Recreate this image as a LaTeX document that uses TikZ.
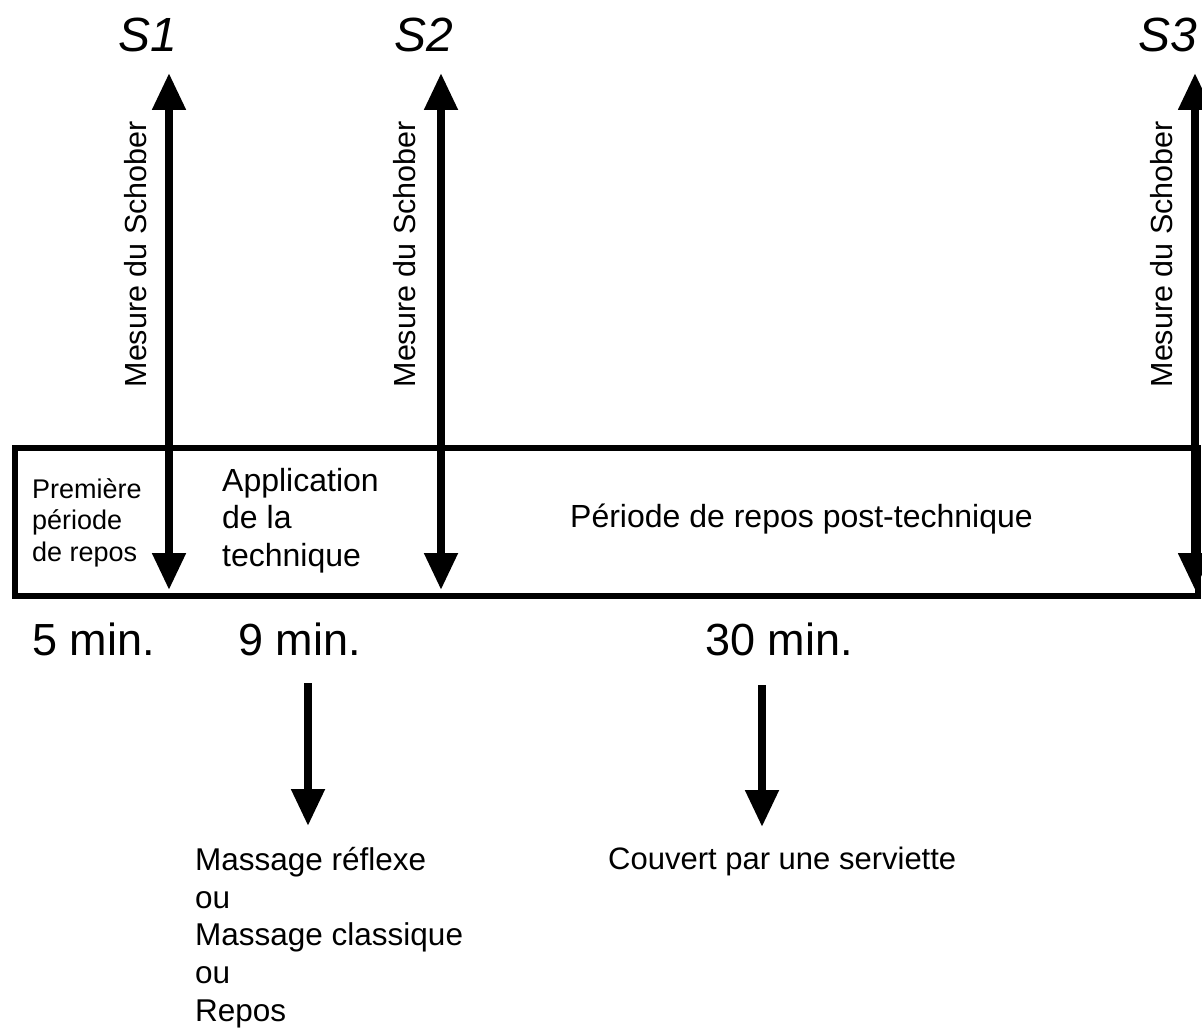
\documentclass[tikz,border=0pt]{standalone}
\usepackage{fontspec}
\setmainfont{Liberation Sans}
\usetikzlibrary{arrows.meta}
\begin{document}
\begin{tikzpicture}[x=1pt,y=-1pt,
  downarrow/.style={line width=8pt, -{Triangle[width=32pt,length=37pt]}},
  dblarrow/.style={line width=8pt, {Triangle[width=32pt,length=37pt]}-{Triangle[width=32pt,length=37pt]}},
  slabel/.style={anchor=base, inner sep=0pt, font=\fontsize{48}{48}\selectfont\itshape},
  mesure/.style={rotate=90, anchor=base east, inner sep=0pt, font=\fontsize{30.5}{30.5}\selectfont},
  minlabel/.style={anchor=base west, inner sep=0pt, font=\fontsize{45}{45}\selectfont},
  txt/.style={anchor=north west, inner sep=0pt, align=left}
]
\useasboundingbox (0,0) rectangle (1202,1030);

% main box
\node[draw, line width=6pt, minimum width=1183pt, minimum height=148pt, inner sep=0pt, anchor=north west] (box) at (12,445) {};

% measurement arrows
\coordinate (s1t) at (169,73);  \coordinate (s1b) at (169,590);
\coordinate (s2t) at (441,73);  \coordinate (s2b) at (441,590);
\coordinate (s3t) at (1195,73); \coordinate (s3b) at (1195,590);
\draw[dblarrow] (s1t) -- (s1b);
\draw[dblarrow] (s2t) -- (s2b);
\draw[dblarrow] (s3t) -- (s3b);

% S labels
\node[slabel] (S1) at (148,52) {S1};
\node[slabel] (S2) at (424,52) {S2};
\node[slabel] (S3) at (1168,52) {S3};

% Mesure du Schober
\node[mesure] (m1) at (146,121) {Mesure du Schober};
\node[mesure] (m2) at (415,121) {Mesure du Schober};
\node[mesure] (m3) at (1172,121) {Mesure du Schober};

% box texts
\node[txt, font=\fontsize{27}{31.5}\selectfont] (p1) at (32,478) {Première\\période\\de repos};
\node[txt, font=\fontsize{32}{37.5}\selectfont] (p2) at (222,468) {Application\\de la\\technique};
\node[anchor=base west, inner sep=0pt, font=\fontsize{32}{32}\selectfont] (p3) at (570,527) {Période de repos post-technique};

% durations
\node[minlabel] (t5) at (32,655) {5 min.};
\node[minlabel] (t9) at (238,655) {9 min.};
\node[minlabel] (t30) at (705,655) {30 min.};

% lower arrows
\coordinate (d9a) at (308,683); \coordinate (d9b) at (308,826);
\coordinate (d30a) at (762,685); \coordinate (d30b) at (762,827);
\draw[downarrow] (d9a) -- (d9b);
\draw[downarrow] (d30a) -- (d30b);

% lower texts
\node[txt, font=\fontsize{31.5}{37.7}\selectfont] (l1) at (195,847) {Massage réflexe\\ou\\Massage classique\\ou\\Repos};
\node[anchor=base west, inner sep=0pt, font=\fontsize{31}{31}\selectfont] (l2) at (608,869) {Couvert par une serviette};
\end{tikzpicture}
\end{document}
